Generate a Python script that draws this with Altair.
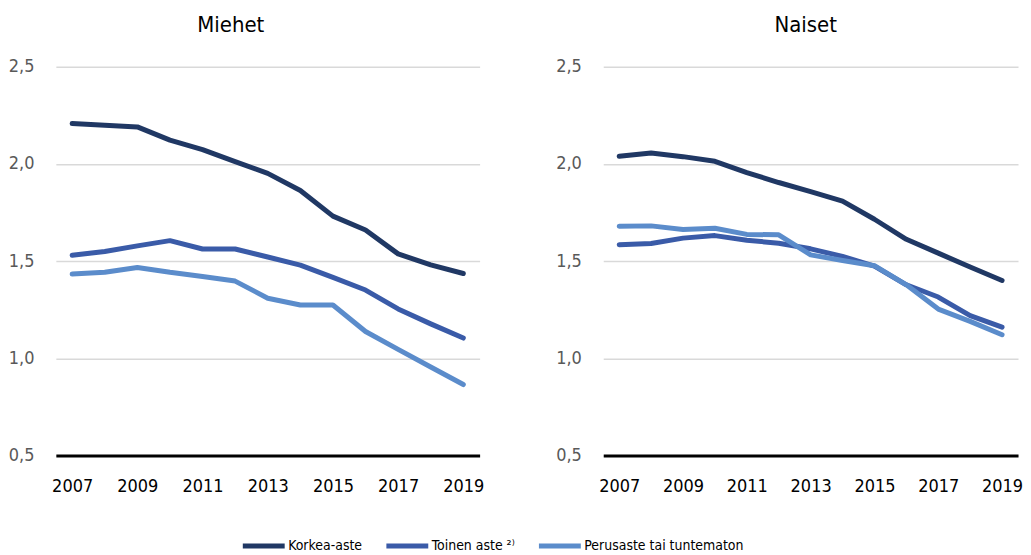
import altair as alt
import pandas as pd

FONT = "DejaVu Sans Condensed, Liberation Sans, sans-serif"

years = list(range(2007, 2020))
series = ["Korkea-aste", "Toinen aste \u00b2\u207e", "Perusaste tai tuntematon"]
colors = ["#203864", "#3A5BA8", "#5B8CCB"]
x_ticks = [2007, 2009, 2011, 2013, 2015, 2017, 2019]
y_ticks = [0.5, 1.0, 1.5, 2.0, 2.5]

miehet_korkea = [2.207, 2.199, 2.190, 2.122, 2.073, 2.011, 1.951, 1.863, 1.731, 1.660, 1.537, 1.480, 1.436]
miehet_toinen = [1.530, 1.549, 1.578, 1.605, 1.562, 1.562, 1.521, 1.479, 1.416, 1.351, 1.254, 1.177, 1.104]
miehet_perus = [1.433, 1.442, 1.467, 1.442, 1.421, 1.397, 1.309, 1.274, 1.274, 1.138, 1.046, 0.955, 0.865]

naiset_korkea = [2.039, 2.056, 2.037, 2.013, 1.955, 1.904, 1.857, 1.808, 1.715, 1.612, 1.541, 1.469, 1.400]
naiset_toinen = [1.584, 1.590, 1.618, 1.631, 1.607, 1.592, 1.563, 1.524, 1.474, 1.378, 1.315, 1.219, 1.160]
naiset_perus = [1.679, 1.681, 1.662, 1.669, 1.637, 1.635, 1.532, 1.503, 1.476, 1.378, 1.253, 1.190, 1.121]


def panel(title, korkea, toinen, perus, width, title_dx):
    n = len(years)
    df = pd.DataFrame({
        "vuosi": years * 3,
        "arvo": korkea + toinen + perus,
        "sarja": [series[0]] * n + [series[1]] * n + [series[2]] * n,
        "jarj": [0] * n + [1] * n + [2] * n,
    })
    return alt.Chart(df, title=alt.Title(title, dx=title_dx)).mark_line(
        strokeWidth=5, strokeCap="round", strokeJoin="round"
    ).encode(
        x=alt.X("vuosi:Q",
                scale=alt.Scale(domain=[2006.5, 2019.5], nice=False, zero=False),
                axis=alt.Axis(values=x_ticks, format="d", title=None, ticks=False,
                              grid=False, domain=True, domainColor="#000000",
                              domainWidth=3, labelPadding=22, labelFontSize=18,
                              labelColor="#000000", labelFont=FONT)),
        y=alt.Y("arvo:Q",
                scale=alt.Scale(domain=[0.5, 2.5], nice=False, zero=False),
                axis=alt.Axis(values=y_ticks, title=None, ticks=False, domain=False,
                              grid=True, gridColor="#d9d9d9", gridWidth=1.5,
                              labelExpr="replace(format(datum.value, '.1f'), '.', ',')",
                              labelPadding=22, labelFontSize=18, labelColor="#595959",
                              labelFont=FONT)),
        color=alt.Color("sarja:N",
                        scale=alt.Scale(domain=series, range=colors),
                        legend=alt.Legend(title=None, orient="none", direction="horizontal",
                                          legendX=185, legendY=473,
                                          symbolType="M-1,0H7.4", symbolSize=100,
                                          symbolStrokeWidth=5, labelFontSize=14,
                                          labelFont=FONT, labelColor="#000000",
                                          labelLimit=300, labelOffset=33,
                                          columnPadding=13)),
        order="jarj:O",
    ).properties(width=width, height=390)


left = panel("Miehet", miehet_korkea, miehet_toinen, miehet_perus, 425, -37)
right = panel("Naiset", naiset_korkea, naiset_toinen, naiset_perus, 416, -5)

chart = alt.hconcat(left, right, spacing=71).properties(
    padding={"left": 0, "top": 5, "right": 0, "bottom": 0}
).configure_view(stroke=None).configure_title(
    font=FONT, fontSize=22, fontWeight="normal", color="#000000",
    anchor="middle", offset=21
)

chart.save("out.html", embed_options={"renderer": "svg", "actions": False})
